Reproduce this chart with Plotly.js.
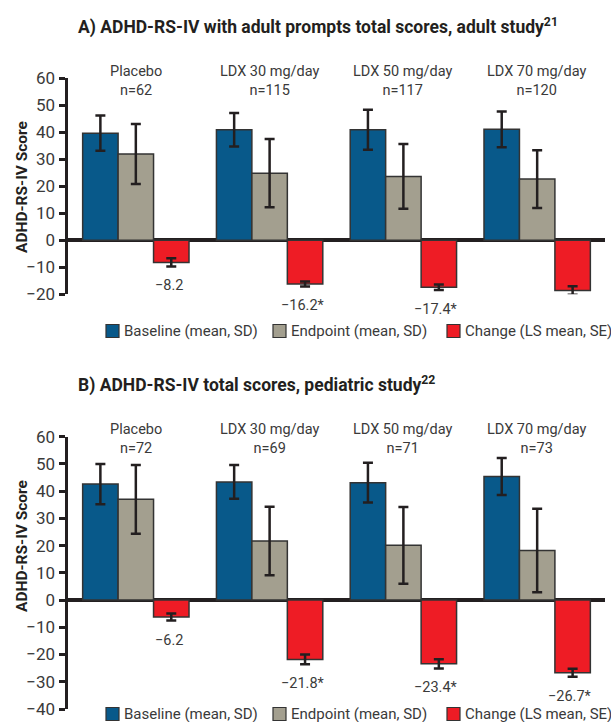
<!DOCTYPE html>
<html><head><meta charset="utf-8">
<script src="https://cdn.plot.ly/plotly-3.0.1.min.js"></script>
<style>html,body{margin:0;padding:0;background:#fff}#chart{width:611px;height:722px}</style>
</head><body><div id="chart"></div>
<script>
// ---- data ----
const groups = ['Placebo', 'LDX 30 mg/day', 'LDX 50 mg/day', 'LDX 70 mg/day'];
const seriesNames = ['Baseline (mean, SD)', 'Endpoint (mean, SD)', 'Change (LS mean, SE)'];
const yTicksA = [-20, -10, 0, 10, 20, 30, 40, 50, 60];
const yTicksB = [-40, -30, -20, -10, 0, 10, 20, 30, 40, 50, 60];

const nAdult = [62, 115, 117, 120];
const adultBaseline = [39.6, 40.9, 40.9, 41.0];
const adultBaselineSD = [6.5, 6.2, 7.4, 6.6];
const adultEndpoint = [31.9, 24.8, 23.6, 22.6];
const adultEndpointSD = [11.1, 12.6, 12.0, 10.7];
const adultChange = [-8.2, -16.2, -17.4, -18.6];
const adultChangeSE = [1.5, 0.9, 1.0, 1.6];
const adultSig = [false, true, true, false];

const nPed = [72, 69, 71, 73];
const pedBaseline = [42.6, 43.4, 43.1, 45.4];
const pedBaselineSD = [7.4, 6.2, 7.3, 6.8];
const pedEndpoint = [37.0, 21.7, 20.1, 18.2];
const pedEndpointSD = [12.6, 12.6, 14.1, 15.3];
const pedChange = [-6.2, -21.8, -23.4, -26.7];
const pedChangeSE = [1.3, 1.8, 1.7, 1.5];
const pedSig = [false, true, true, true];

// ---- style ----
const W = 611, H = 722;
const FONT = "Roboto, 'Liberation Sans', sans-serif";
const colors = ['#08598a', '#a39f8f', '#ee1c25'];
const dark = '#231f20';
const textCol = '#3a3a3a';
const legendSquareLeft = [106, 273, 447]; // px
const legendRowsY = [331, 714];           // px, panel A and B

function mk(vals, errs, idx, xa, ya) {
  return {
    type: 'bar', x: groups, y: vals, name: seriesNames[idx],
    xaxis: xa, yaxis: ya, showlegend: false,
    marker: {color: colors[idx], line: {color: '#333', width: 1.5}},
    error_y: {type: 'data', array: errs, visible: true, color: dark, thickness: 2.5, width: 5},
    hoverinfo: 'skip'
  };
}

const data = [
  mk(adultBaseline, adultBaselineSD, 0, 'x', 'y'),
  mk(adultEndpoint, adultEndpointSD, 1, 'x', 'y'),
  mk(adultChange, adultChangeSE, 2, 'x', 'y'),
  mk(pedBaseline, pedBaselineSD, 0, 'x2', 'y2'),
  mk(pedEndpoint, pedEndpointSD, 1, 'x2', 'y2'),
  mk(pedChange, pedChangeSE, 2, 'x2', 'y2')
];

function fmt(v) { return (v < 0 ? '\u2212' : '') + Math.abs(v).toFixed(1); }

const annotations = [];
const shapes = [];
function addPanel(xref, yref, ns, change, se, sig) {
  groups.forEach((g, i) => {
    annotations.push({
      xref: xref, yref: yref, x: g, y: 59, yanchor: 'middle',
      text: g + '<br>n=' + ns[i], showarrow: false,
      font: {family: FONT, size: 14.5, color: textCol}
    });
    annotations.push({
      xref: xref, yref: yref, x: g, xshift: 33, y: change[i] - se[i], yanchor: 'top', yshift: -9,
      text: fmt(change[i]) + (sig[i] ? '*' : ''), showarrow: false,
      font: {family: FONT, size: 14.5, color: textCol}
    });
  });
}
addPanel('x', 'y', nAdult, adultChange, adultChangeSE, adultSig);
addPanel('x2', 'y2', nPed, pedChange, pedChangeSE, pedSig);

// legends (one row under each panel)
legendRowsY.forEach(yc => {
  seriesNames.forEach((name, k) => {
    const x0 = legendSquareLeft[k];
    shapes.push({type: 'rect', xref: 'paper', yref: 'paper',
      x0: x0 / W, x1: (x0 + 13) / W, y0: 1 - (yc + 6.5) / H, y1: 1 - (yc - 6.5) / H,
      fillcolor: colors[k], line: {color: '#333', width: 1.2}});
    annotations.push({xref: 'paper', yref: 'paper', x: (x0 + 16) / W, y: 1 - yc / H,
      xanchor: 'left', yanchor: 'middle', text: name, showarrow: false,
      font: {family: FONT, size: 15, color: textCol}});
  });
});

// panel titles
annotations.push({xref: 'paper', yref: 'paper', x: 76 / W, y: 1 - 27 / H, xanchor: 'left', yanchor: 'middle',
  text: '<b>A) ADHD-RS-IV with adult prompts total scores, adult study<sup>21</sup></b>', showarrow: false,
  font: {family: FONT, size: 17.5, color: dark}});
annotations.push({xref: 'paper', yref: 'paper', x: 76 / W, y: 1 - 384 / H, xanchor: 'left', yanchor: 'middle',
  text: '<b>B) ADHD-RS-IV total scores, pediatric study<sup>22</sup></b>', showarrow: false,
  font: {family: FONT, size: 17.5, color: dark}});
// y axis titles
annotations.push({xref: 'paper', yref: 'paper', x: 22 / W, y: 1 - 187 / H, xanchor: 'center', yanchor: 'middle',
  textangle: -90, text: '<b>ADHD-RS-IV Score</b>', showarrow: false, font: {family: FONT, size: 15.5, color: dark}});
annotations.push({xref: 'paper', yref: 'paper', x: 22 / W, y: 1 - 546 / H, xanchor: 'center', yanchor: 'middle',
  textangle: -90, text: '<b>ADHD-RS-IV Score</b>', showarrow: false, font: {family: FONT, size: 15.5, color: dark}});

const xCommon = {type: 'category', range: [-0.507, 3.507], showticklabels: false, ticks: '', showline: false,
  showgrid: false, zeroline: false, fixedrange: true};
function yCommon(range, ticks) {
  return {range: range, tickvals: ticks, ticks: 'outside', ticklen: 6, tickwidth: 3, tickcolor: dark,
    showline: true, linewidth: 3.5, linecolor: dark, showgrid: false,
    zeroline: true, zerolinewidth: 3.5, zerolinecolor: dark,
    tickfont: {family: FONT, size: 17, color: textCol}, automargin: false, fixedrange: true};
}

const layout = {
  width: W, height: H, margin: {l: 0, r: 0, t: 0, b: 0},
  paper_bgcolor: '#fff', plot_bgcolor: '#fff',
  barmode: 'group', bargap: 0.205, bargroupgap: 0,
  font: {family: FONT, color: textCol},
  xaxis: Object.assign({domain: [68 / W, 605 / W], anchor: 'y'}, xCommon),
  yaxis: Object.assign({domain: [1 - 294.3 / H, 1 - 78 / H], anchor: 'x'}, yCommon([-20, 60], yTicksA)),
  xaxis2: Object.assign({domain: [68 / W, 605 / W], anchor: 'y2'}, xCommon),
  yaxis2: Object.assign({domain: [1 - 709 / H, 1 - 436.7 / H], anchor: 'x2'}, yCommon([-40, 60], yTicksB)),
  annotations: annotations,
  shapes: shapes,
  showlegend: false
};

Plotly.newPlot('chart', data, layout, {staticPlot: true, displayModeBar: false});
</script>
</body></html>
